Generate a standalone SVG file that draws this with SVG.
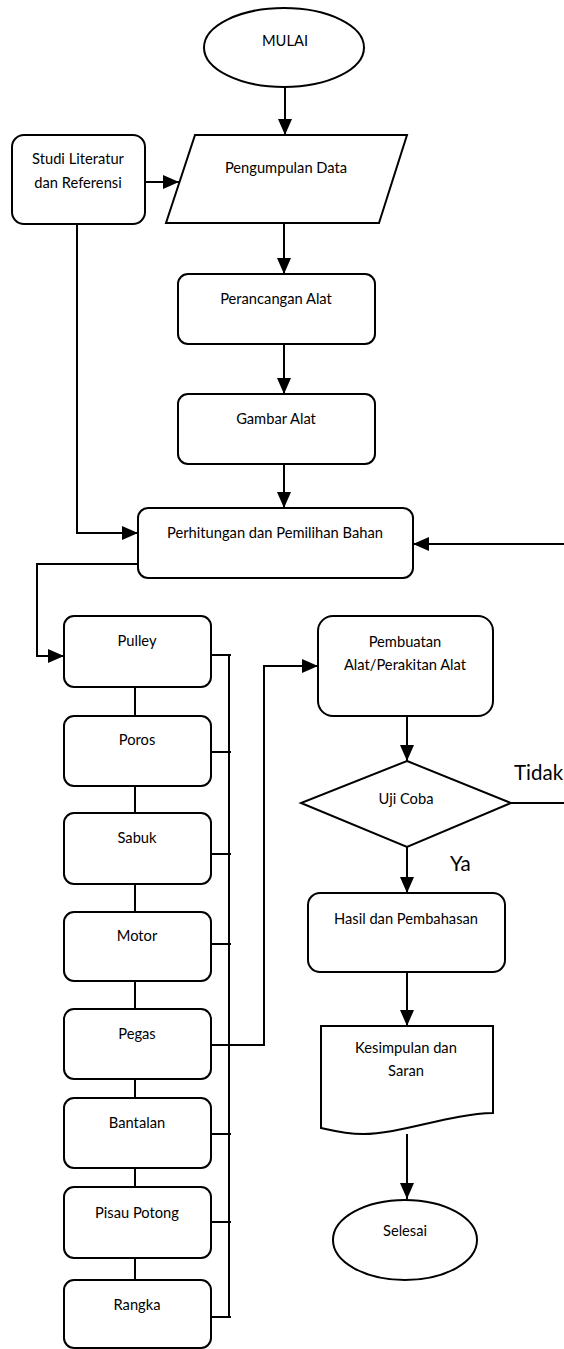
<svg xmlns="http://www.w3.org/2000/svg" width="564" height="1349" viewBox="0 0 564 1349">
<style>
.s{fill:#fff;stroke:#000;stroke-width:2}
.t{font-family:Lato,"Liberation Sans",sans-serif;font-size:14.7px;fill:#000;text-anchor:middle;dominant-baseline:central}
.c{fill:none;stroke:#000;stroke-width:2}
.a{marker-end:url(#ah)}
.big{font-family:Lato,"Liberation Sans",sans-serif;font-size:20.5px;fill:#000;dominant-baseline:central}
</style>
<defs>
<marker id="ah" markerUnits="userSpaceOnUse" markerWidth="16" markerHeight="14" refX="16" refY="7" orient="auto"><path d="M0,0 L16,7 L0,14 z" fill="#000"/></marker>
</defs>
<g id="connectors">
<path class="c a" d="M285,87 V135"/>
<path class="c a" d="M145,182 H179"/>
<path class="c a" d="M284,223 V274"/>
<path class="c a" d="M284,344 V394"/>
<path class="c a" d="M284,464 V508"/>
<path class="c a" d="M77,224 V533 H138"/>
<path class="c a" d="M564,544 H413"/>
<path class="c a" d="M138,564 H37 V656 H64"/>
<path class="c" d="M135,687 V716 M135,786 V813 M135,884 V912 M135,981 V1009 M135,1079 V1098 M135,1168 V1187 M135,1258 V1280"/>
<path class="c" d="M229,655 V1317 M211,655 H231 M211,752 H231 M211,854 H231 M211,944 H231 M211,1134 H231 M211,1222 H231 M211,1317 H231"/>
<path class="c a" d="M211,1045 H264 V666 H318"/>
<path class="c a" d="M407,716 V761"/>
<path class="c" d="M511,803 H564"/>
<path class="c a" d="M407,847 V893"/>
<path class="c a" d="M407,972 V1026"/>
<path class="c a" d="M407,1134 V1199"/>
</g>
<g id="mulai"><ellipse class="s" cx="284" cy="47.5" rx="80" ry="39.5"/><text class="t" x="285" y="40">MULAI</text></g>
<g id="studi"><rect class="s" x="12" y="135" width="133" height="89" rx="12"/><text class="t" x="78" y="158">Studi Literatur</text><text class="t" x="78" y="182">dan Referensi</text></g>
<g id="pengumpulan"><polygon class="s" points="195,135 407,135 379,223 166,223"/><text class="t" x="286" y="167">Pengumpulan Data</text></g>
<g id="perancangan"><rect class="s" x="178" y="274" width="197" height="70" rx="10"/><text class="t" x="276" y="298">Perancangan Alat</text></g>
<g id="gambar"><rect class="s" x="178" y="394" width="197" height="70" rx="10"/><text class="t" x="276" y="418">Gambar Alat</text></g>
<g id="perhitungan"><rect class="s" x="138" y="508" width="275" height="70" rx="10"/><text class="t" x="275" y="532">Perhitungan dan Pemilihan Bahan</text></g>
<g id="pulley"><rect class="s" x="64" y="616" width="147" height="71" rx="10"/><text class="t" x="137" y="640">Pulley</text></g>
<g id="poros"><rect class="s" x="64" y="716" width="147" height="70" rx="10"/><text class="t" x="137" y="739">Poros</text></g>
<g id="sabuk"><rect class="s" x="64" y="813" width="147" height="71" rx="10"/><text class="t" x="137" y="837">Sabuk</text></g>
<g id="motor"><rect class="s" x="64" y="912" width="147" height="69" rx="10"/><text class="t" x="137" y="935">Motor</text></g>
<g id="pegas"><rect class="s" x="64" y="1009" width="147" height="70" rx="10"/><text class="t" x="137" y="1033">Pegas</text></g>
<g id="bantalan"><rect class="s" x="64" y="1098" width="147" height="70" rx="10"/><text class="t" x="137" y="1122">Bantalan</text></g>
<g id="pisau"><rect class="s" x="64" y="1187" width="147" height="71" rx="10"/><text class="t" x="137" y="1212">Pisau Potong</text></g>
<g id="rangka"><rect class="s" x="64" y="1280" width="147" height="68" rx="10"/><text class="t" x="137" y="1304">Rangka</text></g>
<g id="pembuatan"><rect class="s" x="318" y="616" width="175" height="100" rx="15"/><text class="t" x="405" y="641">Pembuatan</text><text class="t" x="405" y="664">Alat/Perakitan Alat</text></g>
<g id="ujicoba"><polygon class="s" points="407,761 511,803 407,847 301,803"/><text class="t" x="406" y="798">Uji Coba</text></g>
<text class="big" x="514" y="772">Tidak</text>
<text class="big" x="450" y="863">Ya</text>
<g id="hasil"><rect class="s" x="308" y="893" width="197" height="79" rx="12"/><text class="t" x="406" y="918">Hasil dan Pembahasan</text></g>
<g id="kesimpulan"><path class="s" d="M321,1026 H493 V1113 C450,1114 400,1134 363,1134 C345,1134 330,1130 321,1128 Z"/><text class="t" x="406" y="1047">Kesimpulan dan</text><text class="t" x="406" y="1070">Saran</text></g>
<g id="selesai"><ellipse class="s" cx="405" cy="1240" rx="72" ry="40"/><text class="t" x="405" y="1230">Selesai</text></g>
</svg>
